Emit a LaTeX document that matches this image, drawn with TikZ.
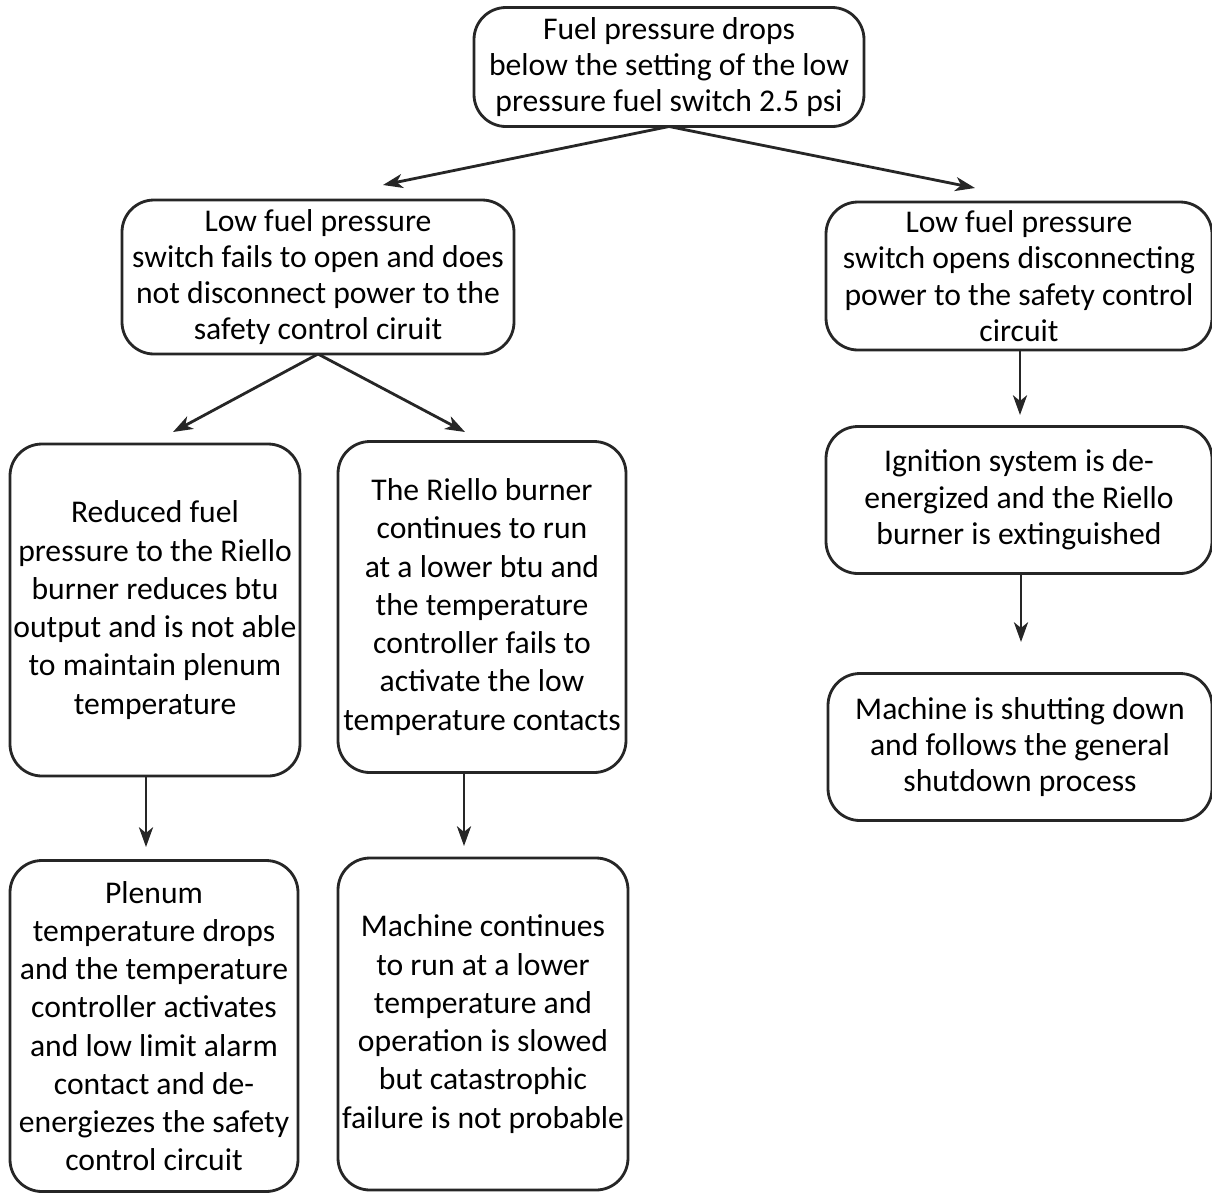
\documentclass[tikz,border=0pt]{standalone}
\usepackage{fontspec}
\setmainfont{Carlito}
\usetikzlibrary{arrows.meta}
\tikzset{
 ff box/.style={draw=black!85,line width=2pt,rounded corners=0.8cm,
                align=center,inner sep=0pt,outer sep=0pt,
                font=\fontsize{22.5}{25.8}\selectfont},
 ff tall/.style={ff box,font=\fontsize{22.5}{27.2}\selectfont},
 ff arrow/.style={draw=black!85,line width=2pt,
                  -{Stealth[length=14pt,width=10pt,inset=4pt]}}
}
\begin{document}
\begin{tikzpicture}[x=0.025cm,y=-0.025cm]
 \useasboundingbox (0,0) rectangle (1212,1193);
 % first event
 \node[ff box,minimum width=390*0.025cm,minimum height=119*0.025cm]
   (drop) at (669,67) {Fuel pressure drops\\below the setting of the low\\pressure fuel switch 2.5 psi};
 % left branch
 \node[ff box,minimum width=392*0.025cm,minimum height=154*0.025cm]
   (nofail) at (318,277) {Low fuel pressure\\switch fails to open and does\\not disconnect power to the\\safety control ciruit};
 \node[ff tall,minimum width=290*0.025cm,minimum height=332*0.025cm]
   (reduced) at (155,610) {Reduced fuel\\pressure to the Riello\\burner reduces btu\\output and is not able\\to maintain plenum\\temperature};
 \node[ff tall,minimum width=288*0.025cm,minimum height=331*0.025cm]
   (runlow) at (482,607) {The Riello burner\\continues to run\\at a lower btu and\\the temperature\\controller fails to\\activate the low\\temperature contacts};
 \node[ff tall,minimum width=288*0.025cm,minimum height=331*0.025cm]
   (plenum) at (154,1026) {Plenum\\temperature drops\\and the temperature\\controller activates\\and low limit alarm\\contact and de-\\energiezes the safety\\control circuit};
 \node[ff tall,minimum width=290*0.025cm,minimum height=332*0.025cm]
   (slowed) at (483,1024) {Machine continues\\to run at a lower\\temperature and\\operation is slowed\\but catastrophic\\failure is not probable};
 % right branch
 \node[ff box,minimum width=386*0.025cm,minimum height=148*0.025cm]
   (opens) at (1019,276) {Low fuel pressure\\switch opens disconnecting\\power to the safety control\\circuit};
 \node[ff box,minimum width=386*0.025cm,minimum height=147*0.025cm]
   (ignition) at (1019,500) {Ignition system is de-\\energized and the Riello\\burner is extinguished};
 \node[ff box,minimum width=384*0.025cm,minimum height=147*0.025cm]
   (shutdown) at (1020,747) {Machine is shutting down\\and follows the general\\shutdown process};
 % arrow tips
 \coordinate (t1) at (383,185);
 \coordinate (t2) at (975,188);
 \coordinate (t3) at (173,432);
 \coordinate (t4) at (465,432);
 \coordinate (t5) at (146,847);
 \coordinate (t6) at (464,846);
 \coordinate (t7) at (1020,415);
 \coordinate (t8) at (1021,642);
 \foreach \f/\t in {drop.south/t1,drop.south/t2,nofail.south/t3,nofail.south/t4}{
   \draw[ff arrow] (\f) -- (\t);
 }
 \foreach \f/\t in {reduced/t5,runlow/t6,opens/t7,ignition/t8}{
   \draw[ff arrow] (\f.south -| \t) -- (\t);
 }
\end{tikzpicture}
\end{document}
